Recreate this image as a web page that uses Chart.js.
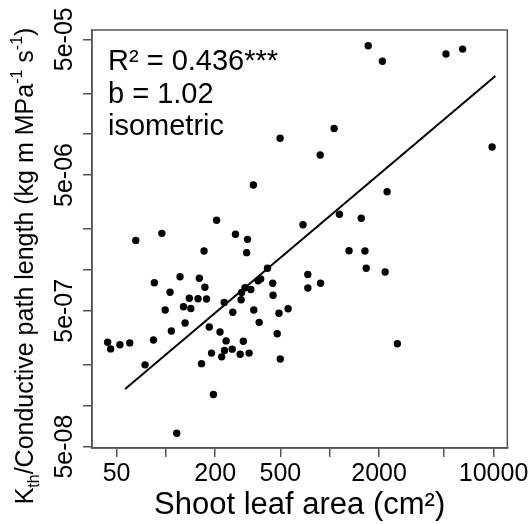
<!DOCTYPE html>
<html><head><meta charset="utf-8">
<script src="https://cdn.jsdelivr.net/npm/chart.js@4"></script>
<style>html,body{margin:0;padding:0;background:#fff;}canvas{display:block;}</style>
</head><body>
<canvas id="c" width="531" height="524"></canvas>
<script>
// Shoot leaf area (cm²)
const leafArea = [1718, 2098, 5126, 6475, 1064, 498, 875, 9802, 342, 2240,
  1146, 1558, 204, 687, 65.5, 94.5, 266, 315, 311, 171,
  1312, 1641, 1671, 2179, 417, 85, 122, 160, 173, 106,
  139, 157, 177, 128, 142, 99, 131, 108, 84, 44.1,
  46, 52.4, 60.2, 74.6, 165, 195, 116.5, 184, 214, 227,
  256, 233, 228, 219, 190, 254, 284, 297, 322, 288,
  290, 304, 330, 365, 379, 449, 451, 344, 371, 490,
  557, 478, 499, 735, 735, 879, 2587];
// Kth / conductive path length
const conductance = [4.48e-5, 3.44e-5, 3.89e-5, 4.23e-5, 1.10e-5, 9.32e-6, 7.02e-6, 8.04e-6, 4.22e-6, 3.77e-6,
  2.57e-6, 2.40e-6, 2.32e-6, 2.15e-6, 1.65e-6, 1.86e-6, 1.83e-6, 1.68e-6, 1.34e-6, 1.38e-6,
  1.385e-6, 1.38e-6, 1.03e-6, 9.65e-7, 1.03e-6, 8.05e-7, 8.91e-7, 8.68e-7, 7.45e-7, 6.84e-7,
  6.18e-7, 6.13e-7, 6.11e-7, 5.36e-7, 5.20e-7, 5.07e-7, 4.07e-7, 3.55e-7, 3.05e-7, 2.93e-7,
  2.62e-7, 2.81e-7, 2.90e-7, 2.00e-7, 2.04e-7, 1.21e-7, 6.26e-8, 3.80e-7, 3.49e-7, 5.75e-7,
  4.88e-7, 3.00e-7, 2.55e-7, 2.29e-7, 2.44e-7, 2.61e-7, 2.39e-7, 2.98e-7, 2.44e-7, 6.03e-7,
  6.82e-7, 7.40e-7, 7.17e-7, 8.33e-7, 8.58e-7, 7.97e-7, 6.51e-7, 5.07e-7, 4.11e-7, 4.80e-7,
  5.18e-7, 3.39e-7, 2.21e-7, 9.25e-7, 7.36e-7, 7.97e-7, 2.86e-7];
// fitted regression line end points
const fitLeafArea = [56.4, 10263];
const fitConductance = [1.328e-7, 2.68e-5];

const xTicks = [50, 100, 200, 500, 1000, 2000, 5000, 10000];
const xTickLabels = ['50', '', '200', '500', '', '2000', '', '10000'];
const yTicks = [5e-8, 1e-7, 2e-7, 5e-7, 1e-6, 2e-6, 5e-6, 1e-5, 2e-5, 5e-5];
const yTickLabels = ['5e-08', '', '', '5e-07', '', '', '5e-06', '', '', '5e-05'];

const annotationLines = ['R² = 0.436***', 'b = 1.02', 'isometric'];
const xTitle = 'Shoot leaf area (cm²)';
// [text, kind] kind: n = normal, sub = subscript, sup = superscript
const yTitleParts = [['K', 'n'], ['th', 'sub'], ['/Conductive path length (kg m MPa', 'n'], ['-1', 'sup'], [' s', 'n'], ['-1', 'sup'], [')', 'n']];

const FONT = '"Liberation Sans", Arial, Helvetica, sans-serif';
const AXIS = '#555555';

const points = leafArea.map((x, i) => ({x: x, y: conductance[i]}));
const fitLine = fitLeafArea.map((x, i) => ({x: x, y: fitConductance[i]}));

const boxPlugin = {
  id: 'box',
  afterDraw(chart) {
    const {ctx, chartArea: a} = chart;
    ctx.save();
    ctx.strokeStyle = AXIS;
    ctx.lineWidth = 1.5;
    ctx.strokeRect(a.left, a.top, a.right - a.left, a.bottom - a.top);
    ctx.restore();
  }
};

const annotationPlugin = {
  id: 'annot',
  afterDatasetsDraw(chart) {
    const {ctx, chartArea: a} = chart;
    ctx.save();
    ctx.fillStyle = '#000';
    ctx.font = '29px ' + FONT;
    ctx.textBaseline = 'alphabetic';
    ctx.textAlign = 'left';
    annotationLines.forEach((t, i) => ctx.fillText(t, a.left + 16, a.top + 40 + i * 32.5));
    ctx.restore();
  }
};

const yTitlePlugin = {
  id: 'ytitle',
  afterDraw(chart) {
    const {ctx} = chart;
    const big = 25, small = 16;
    ctx.save();
    ctx.fillStyle = '#000';
    ctx.textBaseline = 'alphabetic';
    ctx.textAlign = 'left';
    let total = 0;
    const widths = yTitleParts.map(([t, k]) => {
      ctx.font = (k === 'n' ? big : small) + 'px ' + FONT;
      const w = ctx.measureText(t).width;
      total += w;
      return w;
    });
    const centerY = 266;
    ctx.translate(33, centerY + total / 2);
    ctx.rotate(-Math.PI / 2);
    let pos = 0;
    yTitleParts.forEach(([t, k], i) => {
      ctx.font = (k === 'n' ? big : small) + 'px ' + FONT;
      const dy = k === 'sub' ? 6 : (k === 'sup' ? -11 : 0);
      ctx.fillText(t, pos, dy);
      pos += widths[i];
    });
    ctx.restore();
  }
};

new Chart(document.getElementById('c'), {
  data: {
    datasets: [
      {type: 'scatter', data: points, backgroundColor: '#000', borderWidth: 0, pointRadius: 3.7, pointHoverRadius: 3.7},
      {type: 'line', data: fitLine, borderColor: '#000', borderWidth: 2, pointRadius: 0, fill: false, tension: 0}
    ]
  },
  options: {
    responsive: false,
    devicePixelRatio: 1,
    animation: false,
    events: [],
    layout: {padding: {top: 30, right: 21, left: 0, bottom: 0}},
    plugins: {legend: {display: false}, tooltip: {enabled: false}},
    scales: {
      x: {
        type: 'logarithmic', min: 35.4, max: 12140,
        afterBuildTicks: s => { s.ticks = xTicks.map(v => ({value: v})); },
        afterFit: s => { s.height = 76; },
        ticks: {
          autoSkip: false, maxRotation: 0, minRotation: 0, padding: 2, color: '#000',
          font: {family: FONT, size: 25},
          callback: v => { const i = xTicks.indexOf(v); return i >= 0 ? xTickLabels[i] : ''; }
        },
        grid: {drawOnChartArea: false, drawTicks: true, tickLength: 9, color: AXIS, lineWidth: 1.5},
        border: {display: true, color: AXIS, width: 1.5},
        title: {display: true, text: xTitle, color: '#000', font: {family: FONT, size: 31, lineHeight: 1.2}, padding: 0}
      },
      y: {
        type: 'logarithmic', min: 4.88e-8, max: 5.85e-5,
        afterBuildTicks: s => { s.ticks = yTicks.map(v => ({value: v})); },
        afterFit: s => { s.width = 92; },
        ticks: {
          autoSkip: false, minRotation: 90, maxRotation: 90, crossAlign: 'center', padding: -14, color: '#000',
          font: {family: FONT, size: 25},
          callback: v => { const i = yTicks.findIndex(t => Math.abs(t - v) / t < 1e-6); return i >= 0 ? yTickLabels[i] : ''; }
        },
        grid: {drawOnChartArea: false, drawTicks: true, tickLength: 9, color: AXIS, lineWidth: 1.5},
        border: {display: true, color: AXIS, width: 1.5},
        title: {display: false}
      }
    }
  },
  plugins: [boxPlugin, annotationPlugin, yTitlePlugin]
});
</script>
</body></html>
